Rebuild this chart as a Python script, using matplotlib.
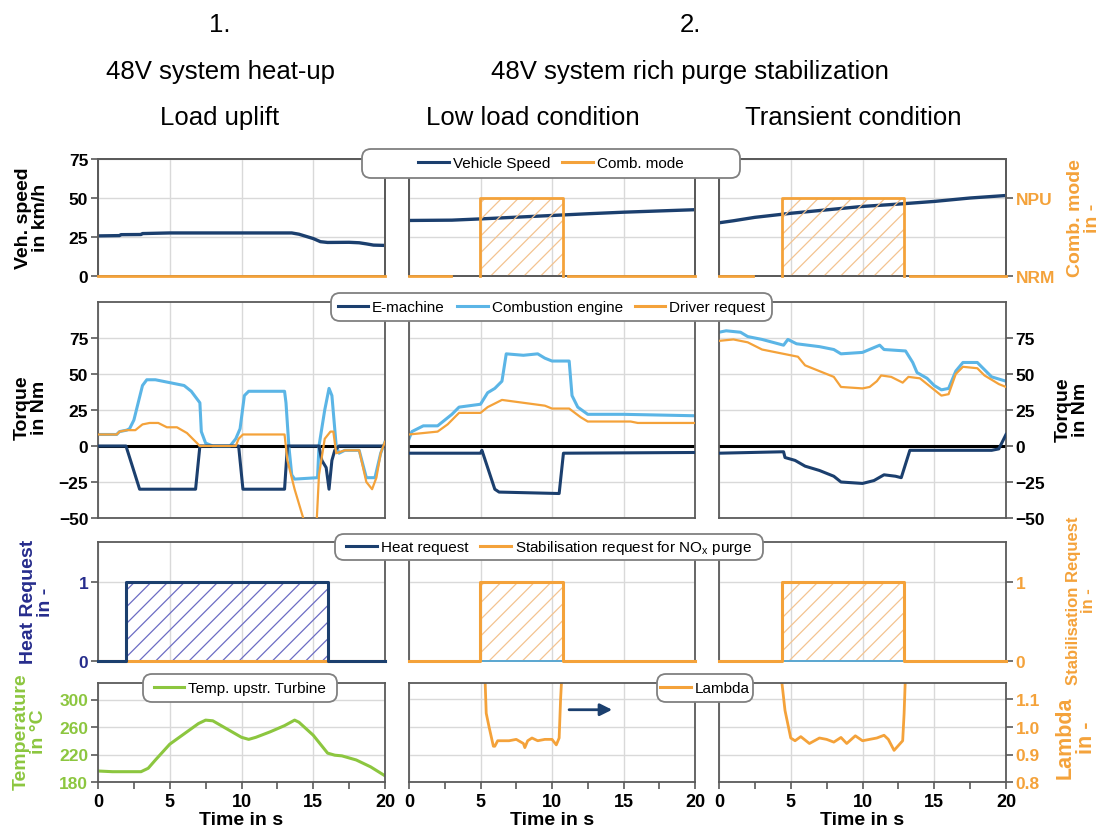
import numpy as np
import matplotlib.pyplot as plt
from matplotlib.lines import Line2D
from matplotlib.patches import FancyBboxPatch

plt.rcParams['font.family'] = ['Liberation Sans', 'DejaVu Sans']
plt.rcParams['font.weight'] = 'bold'
plt.rcParams['hatch.linewidth'] = 0.9

NAVY = '#1b3f6e'
LBLUE = '#5bb5e6'
ORANGE = '#f4a23a'
ORANGE_H = '#f3c390'
GREEN = '#8cc63f'
HEATC = '#262c8c'
HEAT_H = '#6c6cc4'
SPINE = '#5a5a5a'
GRID = '#d9d9d9'

# ---------------- data (time in s) ----------------
# vehicle speed, km/h
spd_t = [
    [0, 1.5, 1.6, 3.0, 3.1, 5, 13.5, 14.0, 15.0, 15.5, 16.0, 17.5, 18.2, 18.7, 19.2, 20],
    [0, 3, 5, 7.5, 10, 12.5, 15, 17.5, 20],
    [0, 1, 2.5, 5, 7.5, 10, 12.5, 15, 17.5, 20],
]
spd_v = [
    [25.7, 25.9, 26.5, 26.6, 27.2, 27.6, 27.6, 26.8, 24, 22, 21.5, 21.6, 21.3, 20.6, 19.8, 19.6],
    [35.6, 35.8, 36.6, 37.7, 38.8, 39.9, 40.9, 41.7, 42.5],
    [34.1, 35.4, 37.6, 40.2, 42.4, 44.6, 46.1, 47.8, 50.0, 51.6],
]
# combustion mode (0 = NRM, 1 = NPU)
nan = np.nan
comb_t = [
    [0, 20],
    [0, 2.95, nan, 4.97, 4.97, 10.75, 10.75, nan, 11.1, 20],
    [0, 2.4, nan, 4.4, 4.4, 12.9, 12.9, nan, 13.3, 20],
]
comb_v = [
    [0, 0],
    [0, 0, nan, 0, 1, 1, 0, nan, 0, 0],
    [0, 0, nan, 0, 1, 1, 0, nan, 0, 0],
]

# torque, Nm
ce_t = [
    [0, 1.0, 1.3, 1.5, 2.0, 2.2, 2.5, 2.8, 3.1, 3.4, 4.0, 5.0, 6.0, 6.5, 7.1, 7.2, 7.5, 8.0,
     9.2, 9.6, 9.9, 10.2, 10.5, 13.0, 13.1, 13.3, 13.5, 13.7, 15.3, 15.4, 15.8, 16.1, 16.3,
     16.6, 16.8, 17.2, 18.2, 18.7, 19.3, 19.7, 20],
    [0, 0.2, 0.6, 1.0, 2.0, 2.5, 3.0, 3.5, 5.0, 5.5, 6.0, 6.5, 6.8, 8.0, 9.0, 9.5, 10.0, 11.2,
     11.4, 11.8, 12.5, 15, 17.5, 20],
    [0, 0.5, 1.5, 2.0, 3.0, 4.5, 4.8, 5.2, 5.4, 7.0, 8.0, 8.5, 10.0, 11.2, 11.5, 13.0, 13.5,
     13.8, 14.5, 15.0, 15.5, 16.0, 16.5, 17.0, 18.0, 18.5, 19.0, 20],
]
ce_v = [
    [8, 8, 8, 10, 11, 12, 18, 30, 42, 46, 46, 44, 42, 38, 30, 10, 2, 0,
     0, 5, 12, 35, 38, 38, 30, 0, -20, -23, -22, 0, 25, 40, 35,
     0, -5, -3, -3, -22, -22, -5, 3],
    [5, 10, 12, 14, 14, 18, 22, 27, 29, 37, 40, 45, 64, 63, 64, 61, 59, 59,
     35, 27, 22, 22, 21.5, 21],
    [79, 80, 79, 76, 74, 70, 74, 72, 71, 69, 67, 64, 65, 70, 67, 66, 58,
     51, 47, 42, 39, 40, 52, 58, 58, 53, 48, 45],
]
dr_t = [
    [0, 1.0, 1.3, 1.5, 2.0, 2.2, 2.6, 3.1, 3.6, 4.2, 4.8, 5.5, 6.2, 6.8, 7.1, 9.6, 9.8, 10.1,
     13.0, 13.2, 13.7, 14.3, 14.6, 15.2, 15.4, 15.8, 16.2, 16.4, 16.6, 17.2, 18.2, 18.7,
     19.1, 19.4, 19.7, 20],
    [0, 1.0, 2.0, 2.7, 3.5, 5.0, 5.5, 6.5, 8.0, 9.5, 10.0, 11.2, 12.0, 12.5, 15.5, 16.0, 20],
    [0, 1.0, 2.0, 3.0, 5.0, 5.5, 6.0, 7.0, 8.0, 8.5, 10.0, 10.5, 11.0, 11.3, 12.0, 12.8,
     13.2, 14.0, 15.0, 15.5, 16.0, 16.5, 17.0, 18.0, 18.5, 19.5, 20],
]
dr_v = [
    [8, 8, 8, 10, 11, 11, 11, 15, 16, 16, 13, 13, 9, 3, 0, 0, 5, 8,
     8, -10, -30, -50, -60, -60, -20, 5, 10, 10, -5, -3, -3, -25,
     -30, -22, -5, 3],
    [8, 9, 10, 15, 23, 23, 27, 32, 30, 28, 26, 26, 20, 17, 17, 16, 16],
    [73, 74, 72, 67, 63, 62, 56, 52, 48, 41, 40, 41, 45, 49, 48, 44,
     48, 47, 39, 35, 36, 50, 55, 54, 49, 43, 41],
]
em_t = [
    [0, 1.95, 2.9, 6.8, 7.1, 9.8, 10.1, 13.0, 13.2, 15.4, 15.6, 15.9, 16.1, 16.3, 16.5, 16.8, 20],
    [0, 5.0, 5.1, 6.0, 6.3, 10.5, 10.8, 20],
    [0, 4.5, 4.6, 5.3, 6.0, 7.0, 8.0, 8.5, 10.0, 10.8, 11.5, 12.3, 12.7, 13.3, 19.0, 19.5, 20],
]
em_v = [
    [0, 0, -30, -30, 0, 0, -30, -30, 0, 0, -10, -15, -30, -10, -3, 0, 0],
    [-5, -5, -3, -30, -32, -33, -5, -4.5],
    [-5, -4, -8, -10, -14, -17, -21, -25, -26, -24, -20, -21, -22, -3, -3, -2, 8],
]

# heat request / stabilisation request (0/1)
heat_t = [[0, 1.93, 1.93, 16.0, 16.0, 20], [0, 20], [0, 20]]
heat_v = [[0, 0, 1, 1, 0, 0], [0, 0], [0, 0]]
stab_t = [[0, 20], [0, 4.97, 4.97, 10.75, 10.75, 20], [0, 4.37, 4.37, 12.86, 12.86, 20]]
stab_v = [[0, 0], [0, 0, 1, 1, 0, 0], [0, 0, 1, 1, 0, 0]]

# temperature upstream turbine, degC (column 1)
temp_t = [0, 1, 3, 3.5, 4, 5, 6, 7, 7.5, 8, 9, 10, 10.5, 11, 12, 13, 13.7, 14, 15, 16,
          16.5, 17, 18, 19, 20]
temp_v = [196, 195, 195, 200, 212, 235, 250, 265, 270, 269, 257, 245, 242, 245, 253, 262,
          270, 267, 248, 222, 219, 218, 212, 202, 189]

# lambda (columns 2 and 3)
lam_t = [
    [5.3, 5.4, 5.6, 5.9, 6.0, 6.2, 7.0, 7.5, 8.0, 8.1, 8.3, 8.6, 9.0, 9.5, 10.0, 10.3, 10.5,
     10.6, 10.7],
    [4.3, 4.6, 5.0, 5.3, 5.7, 6.3, 7.0, 7.5, 8.0, 8.5, 8.9, 9.5, 10.0, 10.5, 11.0, 11.5,
     11.8, 12.2, 12.8, 12.9, 13.0],
]
lam_v = [
    [1.2, 1.05, 1.0, 0.93, 0.93, 0.95, 0.95, 0.955, 0.94, 0.925, 0.95, 0.96, 0.95, 0.955,
     0.955, 0.935, 0.96, 1.1, 1.2],
    [1.2, 1.06, 0.96, 0.95, 0.965, 0.94, 0.96, 0.955, 0.945, 0.962, 0.94, 0.968, 0.95,
     0.955, 0.96, 0.97, 0.955, 0.915, 0.95, 1.05, 1.2],
]

# ---------------- layout ----------------
W, H = 1103, 837
fig = plt.figure(figsize=(W / 100, H / 100), dpi=100)


def rect(x0, x1, ytop, ybot):
    return [x0 / W, 1 - ybot / H, (x1 - x0) / W, (ybot - ytop) / H]


col_x = [(98, 385), (409, 695), (719, 1006)]
row_y = [(160, 277), (303, 519), (543, 662), (684, 783)]


def style(ax, row, col, yticks, ylim, color='black', labels=None):
    ax.set_xlim(0, 20)
    ax.set_ylim(*ylim)
    for s in ax.spines.values():
        s.set_color(SPINE)
        s.set_linewidth(1.3)
    ax.set_xticks(range(0, 21, 5))
    ax.set_yticks(yticks)
    if labels is not None:
        ax.set_yticklabels(labels)
    ax.grid(True, color=GRID, lw=1)
    ax.set_axisbelow(True)
    if row < 3:
        ax.tick_params(axis='x', length=0, labelbottom=False)
    else:
        ax.set_xticks(np.arange(0, 20.1, 2.5), minor=True)
        ax.tick_params(axis='x', which='both', direction='out', length=5,
                       width=1.2, color=SPINE, labelsize=13, pad=3)
        ax.set_xlabel('Time in s', fontsize=14, fontweight='bold', labelpad=1)
    if col == 0:
        ax.tick_params(axis='y', direction='out', length=5, width=1.2, color=SPINE,
                       labelsize=12.5, labelcolor=color, pad=2)
    elif col == 2:
        ax.yaxis.tick_right()
        ax.tick_params(axis='y', direction='out', length=5, width=1.2, color=SPINE,
                       labelsize=12.5, labelcolor=color, pad=2)
    else:
        ax.tick_params(axis='y', length=0, labelleft=False)


for c in range(3):
    x0, x1 = col_x[c]

    # row 1: speed + combustion mode
    ax = fig.add_axes(rect(x0, x1, *row_y[0]))
    style(ax, 0, 0 if c == 0 else 1, [0, 25, 50, 75], (0, 75))
    ax.plot(spd_t[c], spd_v[c], color=NAVY, lw=2.4)
    axc = ax.twinx()
    axc.set_ylim(0, 1.5)
    axc.set_yticks([0, 1])
    axc.set_yticklabels(['NRM', 'NPU'])
    if c == 2:
        axc.tick_params(axis='y', direction='out', length=5, width=1.2, color=SPINE,
                        labelsize=12.5, labelcolor=ORANGE, pad=2)
    else:
        axc.tick_params(axis='y', length=0, labelright=False)
    for s in axc.spines.values():
        s.set_color(SPINE)
        s.set_linewidth(1.3)
    ct = np.array(comb_t[c], dtype=float)
    cv = np.array(comb_v[c], dtype=float)
    ok = ~np.isnan(cv)
    axc.fill_between(ct[ok], 0, cv[ok], where=cv[ok] > 0, facecolor='none',
                     edgecolor=ORANGE_H, hatch='//', lw=0)
    axc.plot(ct, cv, color=ORANGE, lw=2, clip_on=False, zorder=3)

    # row 2: torque
    ax = fig.add_axes(rect(x0, x1, *row_y[1]))
    style(ax, 1, c, [-50, -25, 0, 25, 50, 75], (-50, 100))
    ax.axhline(0, color='black', lw=2.2, zorder=1.5)
    ax.plot(em_t[c], em_v[c], color=NAVY, lw=2.2, zorder=3)
    ax.plot(dr_t[c], dr_v[c], color=ORANGE, lw=1.6, zorder=3)
    ax.plot(ce_t[c], ce_v[c], color=LBLUE, lw=2.2, zorder=2.5)

    # row 3: heat request / stabilisation request
    ax = fig.add_axes(rect(x0, x1, *row_y[2]))
    style(ax, 2, c, [0, 1], (0, 1.5), color=HEATC if c == 0 else ORANGE)
    ht = np.array(heat_t[c])
    hv = np.array(heat_v[c])
    st = np.array(stab_t[c])
    sv = np.array(stab_v[c])
    if hv.max() > 0:
        ax.fill_between(ht, 0, hv, where=hv > 0, facecolor='none', edgecolor=HEAT_H,
                        hatch='//', lw=0)
    if sv.max() > 0:
        ax.fill_between(st, 0, sv, where=sv > 0, facecolor='none', edgecolor=ORANGE_H,
                        hatch='//', lw=0)
    if c == 0:
        ax.plot(st, sv, color=ORANGE, lw=2.2, clip_on=False, zorder=3)
        ax.plot(ht, hv, color=NAVY, lw=2.2, clip_on=False, zorder=3)
    else:
        ax.plot(ht, hv, color=LBLUE, lw=1.2, clip_on=False, zorder=3)
        ax.plot(st, sv, color=ORANGE, lw=2.2, clip_on=False, zorder=3)

    # row 4: temperature / lambda
    ax = fig.add_axes(rect(x0, x1, *row_y[3]))
    if c == 0:
        style(ax, 3, 0, [180, 220, 260, 300], (180, 324), color=GREEN)
        ax.plot(temp_t, temp_v, color=GREEN, lw=2.2)
    else:
        style(ax, 3, c, [0.8, 0.9, 1.0, 1.1], (0.8, 1.16), color=ORANGE,
              labels=['0.8', '0.9', '1.0', '1.1'])
        ax.plot(lam_t[c - 1], lam_v[c - 1], color=ORANGE, lw=2)
        if c == 1:
            ax.annotate('', xy=(0.72, 0.73), xytext=(0.55, 0.73),
                        xycoords='axes fraction',
                        arrowprops=dict(arrowstyle='-|>', color=NAVY, lw=2,
                                        mutation_scale=18))

# ---------------- legends ----------------
dpi_t = fig.dpi_scale_trans


def legend_box(x0, x1, ytop, ybot, handles, labels, ncol):
    patch = FancyBboxPatch((x0 / 100, (H - ybot) / 100), (x1 - x0) / 100, (ybot - ytop) / 100,
                           boxstyle='round,pad=0,rounding_size=0.09', transform=dpi_t,
                           facecolor='white', edgecolor='#808080', lw=1.3, zorder=4)
    fig.add_artist(patch)
    fig.legend(handles, labels, loc='center', ncol=ncol, frameon=False,
               bbox_to_anchor=((x0 + x1) / 2 / W, 1 - (ytop + ybot) / 2 / H),
               prop={'size': 11, 'weight': 'normal'}, handlelength=2.0,
               handletextpad=0.25, columnspacing=0.8, borderpad=0.2)


def h(color):
    return Line2D([], [], color=color, lw=2.2)


legend_box(362, 740, 150, 179, [h(NAVY), h(ORANGE)], ['Vehicle Speed', 'Comb. mode'], 2)
legend_box(331, 772, 294, 322, [h(NAVY), h(LBLUE), h(ORANGE)],
           ['E-machine', 'Combustion engine', 'Driver request'], 3)
legend_box(335, 763, 535, 561, [h(NAVY), h(ORANGE)],
           ['Heat request', r'Stabilisation request for NO$_\mathregular{x}$ purge'], 2)
legend_box(143, 337, 675, 703, [h(GREEN)], ['Temp. upstr. Turbine'], 1)
legend_box(657, 753, 675, 703, [h(ORANGE)], ['Lambda'], 1)

# ---------------- titles ----------------
tk = dict(ha='center', va='center', fontsize=18.5, fontweight='normal')
fig.text(220 / W, 1 - 25 / H, '1.', **tk)
fig.text(220 / W, 1 - 72 / H, '48V system heat-up', **tk)
fig.text(220 / W, 1 - 118 / H, 'Load uplift', **tk)
fig.text(690 / W, 1 - 25 / H, '2.', **tk)
fig.text(690 / W, 1 - 72 / H, '48V system rich purge stabilization', **tk)
fig.text(533 / W, 1 - 118 / H, 'Low load condition', **tk)
fig.text(853 / W, 1 - 118 / H, 'Transient condition', **tk)

# ---------------- axis titles ----------------
yl = dict(ha='center', va='center', rotation=90, fontweight='bold',
          multialignment='center', linespacing=1.0)
fig.text(32 / W, 1 - 218 / H, 'Veh. speed\nin km/h', color='black', fontsize=14, **yl)
fig.text(31 / W, 1 - 408 / H, 'Torque\nin Nm', color='black', fontsize=14, **yl)
fig.text(37 / W, 1 - 602 / H, 'Heat Request\nin -', color=HEATC, fontsize=14, **yl)
fig.text(30 / W, 1 - 732 / H, 'Temperature\nin °C', color=GREEN, fontsize=14, **yl)
fig.text(1084 / W, 1 - 218 / H, 'Comb. mode\nin -', color=ORANGE, fontsize=14, **yl)
fig.text(1072 / W, 1 - 410 / H, 'Torque\nin Nm', color='black', fontsize=14, **yl)
fig.text(1081 / W, 1 - 601 / H, 'Stabilisation Request\nin -', color=ORANGE,
         fontsize=12, **yl)
fig.text(1076 / W, 1 - 738 / H, 'Lambda\nin -', color=ORANGE, fontsize=15.5, **yl)

fig.savefig('out.png', dpi=100)
